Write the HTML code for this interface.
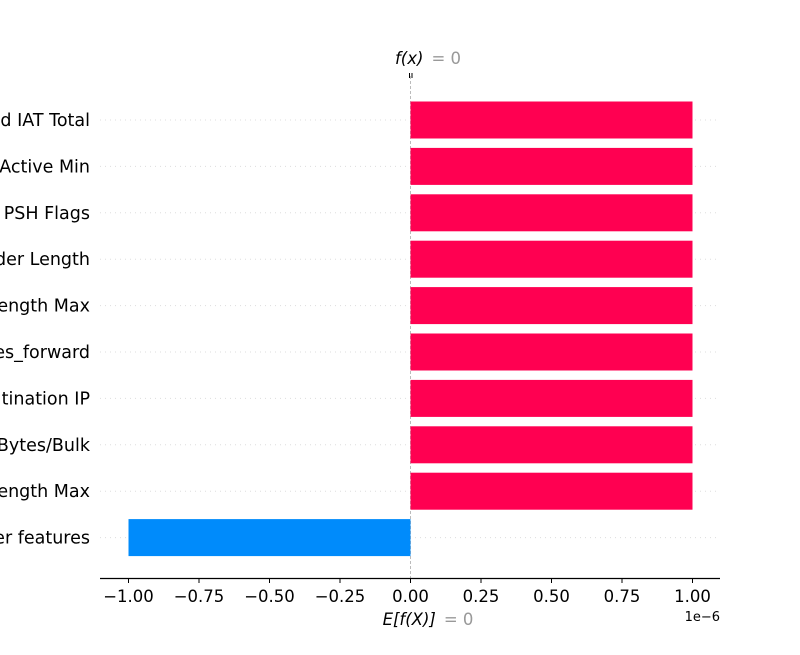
<!DOCTYPE html>
<html><head><meta charset="utf-8"><style>
body{margin:0;background:#fff}
svg text{font-family:"DejaVu Sans","Liberation Sans",sans-serif}
</style></head><body>
<svg id="chart" width="800" height="650" xmlns="http://www.w3.org/2000/svg"></svg>
<script>
const features = ["d IAT Total","Active Min","PSH Flags","der Length","ength Max","es_forward","tination IP","Bytes/Bulk","ength Max","er features"];
const starts = [0,0,0,0,0,0,0,0,0,0];
const ends = [1,1,1,1,1,1,1,1,1,-1];
const ticks = [-1.0,-0.75,-0.5,-0.25,0.0,0.25,0.5,0.75,1.0];
const tickLabels = ["\u22121.00","\u22120.75","\u22120.50","\u22120.25","0.00","0.25","0.50","0.75","1.00"];

const svg = document.getElementById('chart');
const NS = "http://www.w3.org/2000/svg";
const xs = v => 410.5 + v * 282;
const ys = i => 120 + i * 46.4;
function mk(tag, attrs, parent){const e=document.createElementNS(NS,tag);for(const k in attrs)e.setAttribute(k,attrs[k]);(parent||svg).appendChild(e);return e;}

features.forEach((f,i)=>{
  const l = mk('line',{x1:100,x2:718,y1:ys(i),y2:ys(i),stroke:'#ddd','stroke-width':1,'stroke-dasharray':'1,4'});
  
  
});
const zl = mk('line',{x1:xs(0),x2:xs(0),y1:76,y2:578,stroke:'#bbb','stroke-width':1,'stroke-dasharray':'3,2'});



features.forEach((f,i)=>{
  const a=Math.min(xs(starts[i]),xs(ends[i])), b=Math.max(xs(starts[i]),xs(ends[i]));
  const r = mk('rect',{x:a,y:ys(i)-18.5,width:b-a,height:37,fill:ends[i]>=starts[i]?'#ff0051':'#008bfb'});
  
  
  const t = mk('text',{x:90,y:ys(i)+6,'text-anchor':'end','font-size':17.5,fill:'#000'});
  t.textContent=f;
  
  
});

const ax = mk('line',{x1:100,x2:720,y1:578.5,y2:578.5,stroke:'#000','stroke-width':1.2});


ticks.forEach((v,i)=>{
  const tl = mk('line',{x1:xs(v),x2:xs(v),y1:578,y2:583,stroke:'#000','stroke-width':1});
  
  
  const t = mk('text',{x:xs(v),y:602,'text-anchor':'middle','font-size':16.5,fill:'#000'});
  t.textContent=tickLabels[i];
  
  
});
const ex = mk('text',{x:720,y:621,'text-anchor':'end','font-size':13,fill:'#000'});
ex.textContent='1e\u22126';



const top1 = mk('line',{x1:409.5,x2:409.5,y1:73,y2:78,stroke:'#000','stroke-width':1});


const top2 = mk('line',{x1:412,x2:412,y1:73,y2:78,stroke:'#000','stroke-width':1});


const fx = mk('text',{x:428,y:64,'text-anchor':'middle','font-size':16.5});
fx.innerHTML='<tspan font-style="italic" fill="#000">f(x)</tspan><tspan fill="#999" dx="8">= 0</tspan>';


const efx = mk('text',{x:428,y:625,'text-anchor':'middle','font-size':16.5});
efx.innerHTML='<tspan font-style="italic" fill="#000">E[f(X)]</tspan><tspan fill="#999" dx="8">= 0</tspan>';


</script>
</body></html>
